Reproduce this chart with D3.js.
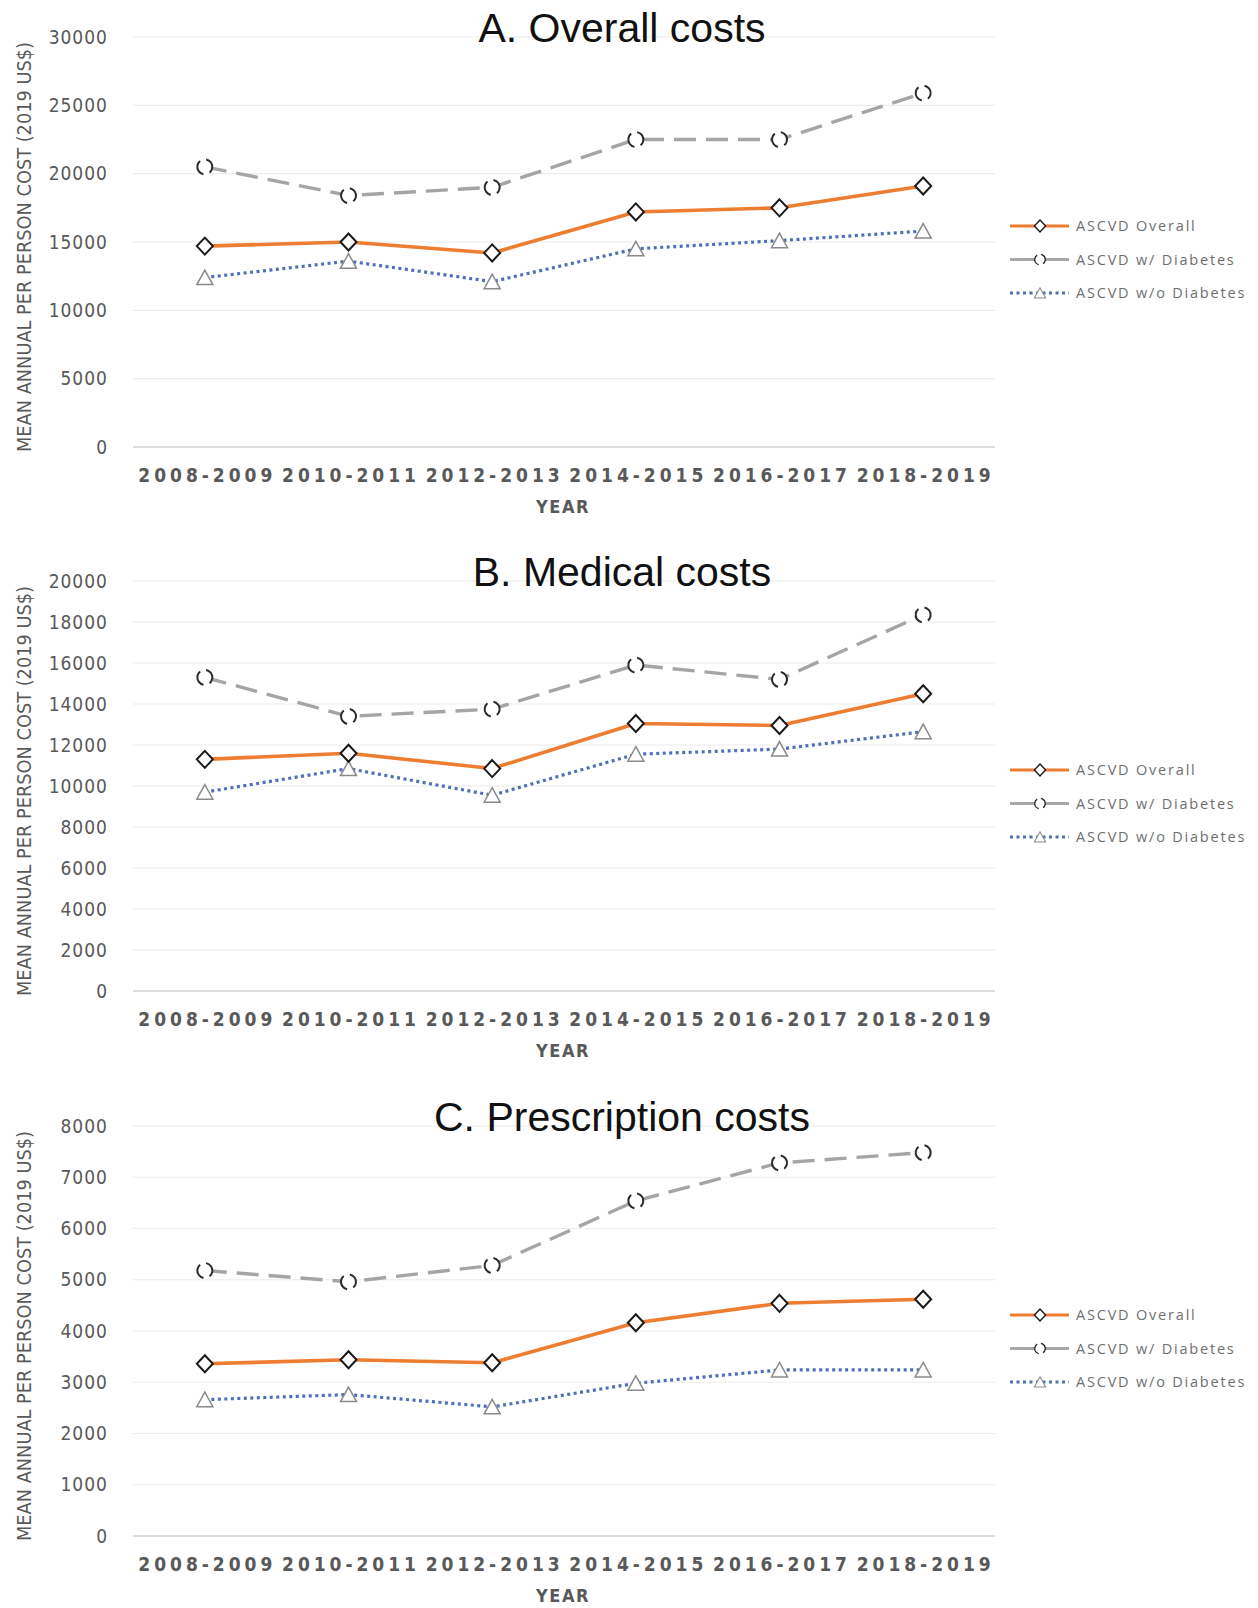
<!DOCTYPE html>
<html>
<head>
<meta charset="utf-8">
<script src="https://cdn.jsdelivr.net/npm/d3@7"></script>
<style>
  body { margin: 0; background: #fff; }
  svg { display: block; }
</style>
</head>
<body>
<script>
// categories + values
const years = ["2008-2009", "2010-2011", "2012-2013", "2014-2015", "2016-2017", "2018-2019"];
const seriesNames = ["ASCVD Overall", "ASCVD w/ Diabetes", "ASCVD w/o Diabetes"];

// A. Overall costs
const overallA = [14700, 15000, 14200, 17200, 17500, 19100];
const diabetesA = [20500, 18400, 19000, 22500, 22500, 25900];
const noDiabetesA = [12400, 13600, 12100, 14500, 15100, 15800];

// B. Medical costs
const overallB = [11300, 11600, 10850, 13050, 12950, 14500];
const diabetesB = [15300, 13400, 13750, 15900, 15200, 18350];
const noDiabetesB = [9700, 10850, 9550, 11550, 11800, 12650];

// C. Prescription costs
const overallC = [3360, 3440, 3380, 4160, 4540, 4620];
const diabetesC = [5180, 4960, 5280, 6540, 7280, 7480];
const noDiabetesC = [2660, 2760, 2520, 2980, 3240, 3240];

const panelTitles = ["A. Overall costs", "B. Medical costs", "C. Prescription costs"];
const yMaxes = [30000, 20000, 8000];
const ySteps = [5000, 2000, 1000];

const W = 1258, H = 1608;
const plotTops = [37, 581, 1126];
const plotH = 410;
const x0 = 133, x1 = 995;

const narrow = "'DejaVu Sans Condensed', 'Liberation Sans Narrow', sans-serif";
const labelGray = "#595959";

const svg = d3.select("body").append("svg")
    .attr("width", W)
    .attr("height", H);

const x = d3.scalePoint()
    .domain(years)
    .range([x0, x1])
    .padding(0.5);

// marker shapes
const diamond = "M0,-8.5L8,0L0,8.5L-8,0Z";
const triangle = "M0,-7.5L8,7L-8,7Z";

const styles = [
    { color: "#ED7D31", dash: null, width: 3.6 },
    { color: "#A5A5A5", dash: "22,10", width: 3.4 },
    { color: "#4F6FB8", dash: "3,3.5", width: 3.2 }
];

function drawMarker(g, i) {
    if (i === 0) {
        g.append("path").attr("d", diamond)
            .attr("fill", "#fff").attr("stroke", "#1a1a1a").attr("stroke-width", 2);
    } else if (i === 1) {
        g.append("circle").attr("r", 7.5)
            .attr("fill", "#fff").attr("stroke", "#2a2a2a").attr("stroke-width", 2)
            .attr("stroke-dasharray", "17,6.5")
            .attr("transform", "rotate(-80)");
    } else {
        g.append("path").attr("d", triangle)
            .attr("fill", "#fff").attr("stroke", "#8a8a8a").attr("stroke-width", 1.5);
    }
}

const panels = [
    [overallA, diabetesA, noDiabetesA],
    [overallB, diabetesB, noDiabetesB],
    [overallC, diabetesC, noDiabetesC]
];

panels.forEach((seriesList, p) => {
    const top = plotTops[p];
    const bottom = top + plotH;
    const y = d3.scaleLinear().domain([0, yMaxes[p]]).range([bottom, top]);
    const ticks = d3.range(0, yMaxes[p] + 1, ySteps[p]);
    const g = svg.append("g");

    // gridlines
    g.selectAll(".grid")
        .data(ticks)
        .enter()
        .append("line")
        .attr("x1", x0).attr("x2", x1)
        .attr("y1", d => y(d)).attr("y2", d => y(d))
        .attr("stroke", d => d === 0 ? "#d0d0d0" : "#ececec")
        .attr("stroke-width", d => d === 0 ? 1.5 : 1.2);

    // y axis (labels only)
    const yAxis = d3.axisLeft(y).tickValues(ticks).tickSize(0).tickPadding(0).tickFormat(d3.format("d"));
    const ya = g.append("g")
        .attr("transform", "translate(108,0)")
        .call(yAxis);
    ya.select(".domain").remove();
    ya.selectAll("text")
        .attr("font-family", narrow)
        .attr("font-size", 19)
        .attr("letter-spacing", 1)
        .attr("fill", labelGray);

    // x axis labels
    const xAxis = d3.axisBottom(x).tickSize(0).tickPadding(0);
    const xa = g.append("g")
        .attr("transform", `translate(0,${bottom + 21})`)
        .call(xAxis);
    xa.select(".domain").remove();
    xa.selectAll("text")
        .attr("font-family", narrow)
        .attr("font-weight", "bold")
        .attr("font-size", 19)
        .attr("fill", labelGray)
        .attr("textLength", 134)
        .attr("lengthAdjust", "spacing");

    // YEAR
    g.append("text")
        .attr("x", 563).attr("y", bottom + 66)
        .attr("text-anchor", "middle")
        .attr("font-family", narrow)
        .attr("font-weight", "bold")
        .attr("font-size", 18)
        .attr("fill", labelGray)
        .attr("letter-spacing", 1.5)
        .text("YEAR");

    // y title
    g.append("text")
        .attr("transform", `translate(31,${top + plotH / 2 + 5}) rotate(-90)`)
        .attr("text-anchor", "middle")
        .attr("font-family", narrow)
        .attr("font-size", 20)
        .attr("fill", labelGray)
        .attr("textLength", 410)
        .attr("lengthAdjust", "spacingAndGlyphs")
        .text("MEAN ANNUAL PER PERSON COST (2019 US$)");

    // lines, drawn bottom series first so orange sits over blue
    const line = d3.line().x((d, i) => x(years[i])).y(d => y(d));
    [2, 1, 0].forEach(s => {
        g.append("path")
            .datum(seriesList[s])
            .attr("d", line)
            .attr("fill", "none")
            .attr("stroke", styles[s].color)
            .attr("stroke-width", styles[s].width)
            .attr("stroke-dasharray", styles[s].dash)
            .attr("stroke-linejoin", "round");
    });
    [2, 1, 0].forEach(s => {
        g.selectAll(".m" + s)
            .data(seriesList[s])
            .enter()
            .append("g")
            .attr("transform", (d, i) => `translate(${x(years[i])},${y(d)})`)
            .each(function () { drawMarker(d3.select(this), s); });
    });

    // title
    g.append("text")
        .attr("x", 622).attr("y", top + 5)
        .attr("text-anchor", "middle")
        .attr("font-family", "'Liberation Sans', Arial, sans-serif")
        .attr("font-size", 41)
        .attr("fill", "#111")
        .text(panelTitles[p]);

    // legend
    const mid = top + plotH / 2;
    const legend = g.selectAll(".leg")
        .data(seriesNames)
        .enter()
        .append("g")
        .attr("transform", (d, i) => `translate(0,${mid - 16 + i * 33.5})`);
    legend.append("line")
        .attr("x1", 1010).attr("x2", 1069)
        .attr("stroke", (d, i) => styles[i].color)
        .attr("stroke-width", 2.8)
        .attr("stroke-dasharray", (d, i) => i === 1 ? "26,9" : (i === 2 ? "3,3.5" : null));
    legend.append("g")
        .attr("transform", "translate(1040,0) scale(0.7)")
        .each(function (d, i) { drawMarker(d3.select(this), i); });
    legend.append("text")
        .attr("x", 1076).attr("y", 5)
        .attr("font-family", "'Open Sans', sans-serif")
        .attr("font-size", 14.5)
        .attr("letter-spacing", 1.8)
        .attr("fill", "#6f6f6f")
        .text(d => d);
});
</script>
</body>
</html>
